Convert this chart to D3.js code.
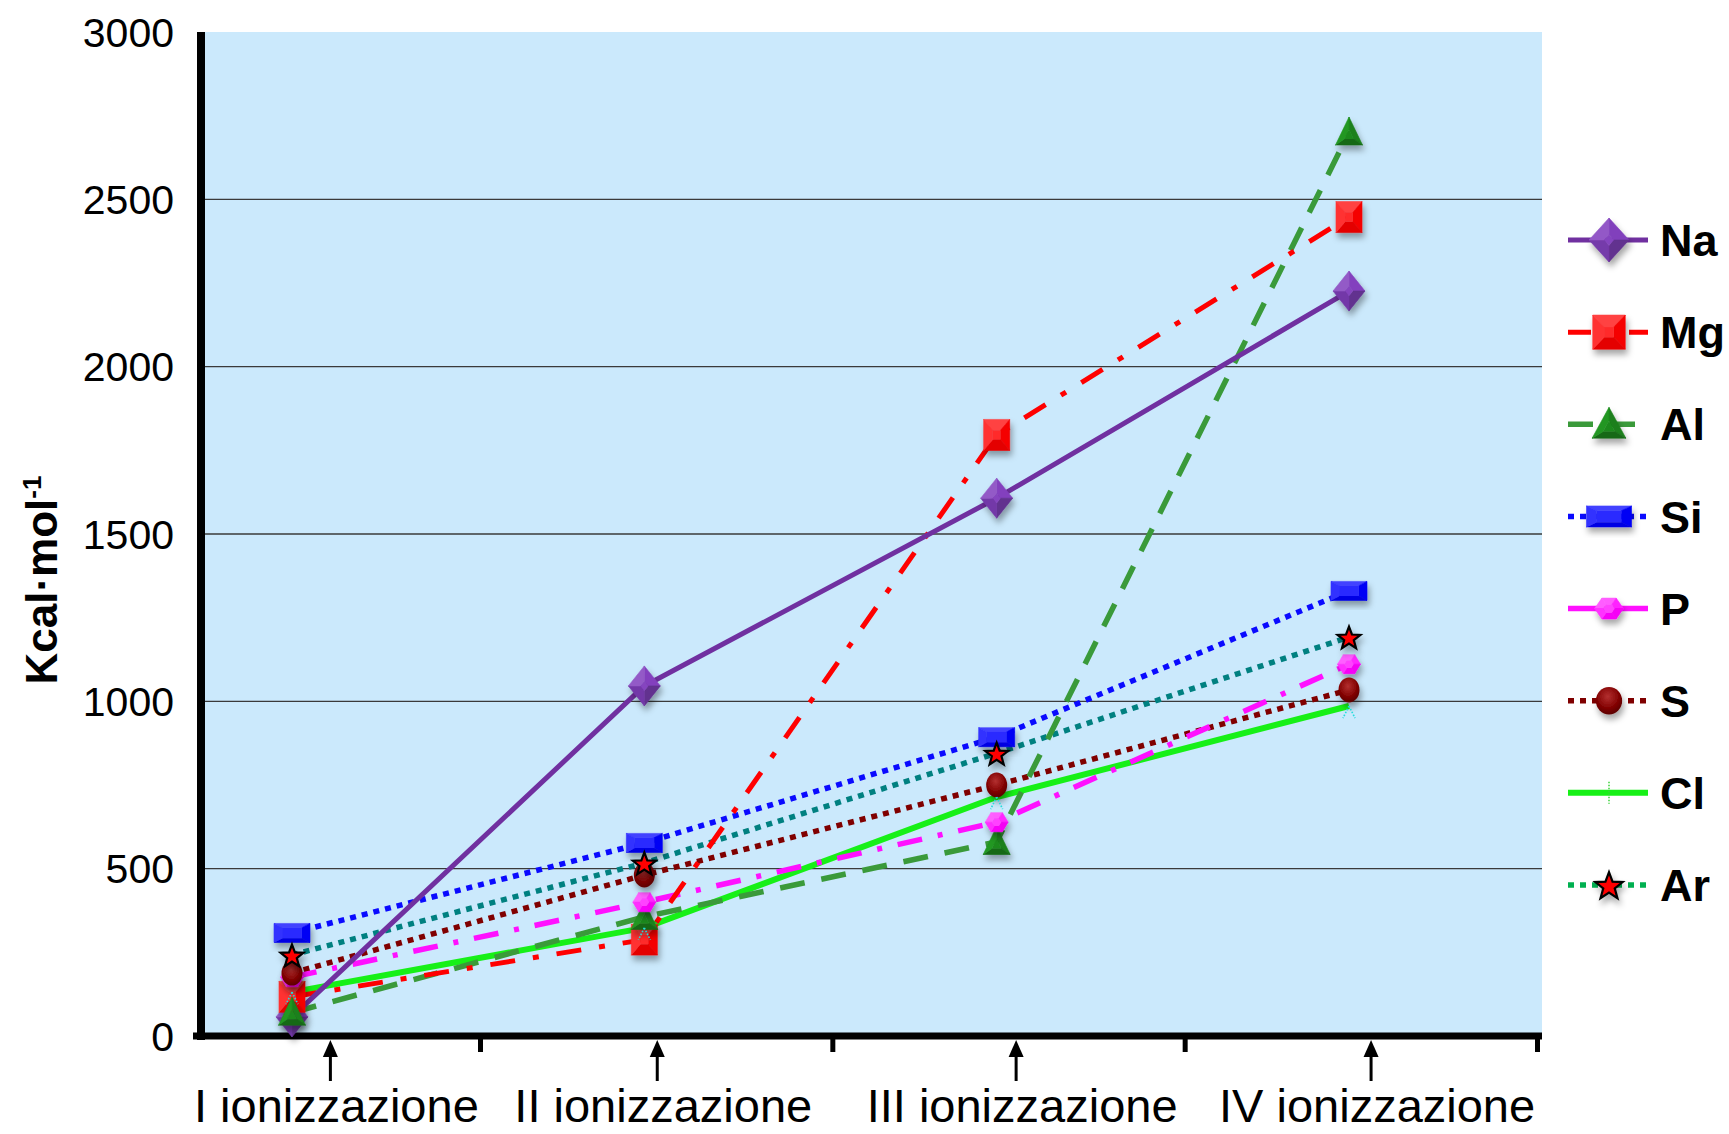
<!DOCTYPE html>
<html>
<head>
<meta charset="utf-8">
<script src="https://cdn.jsdelivr.net/npm/d3@7"></script>
<style>
  html, body { margin: 0; background: #ffffff; }
  svg { display: block; font-family: "Liberation Sans", Arial, Helvetica, sans-serif; }
</style>
</head>
<body>
<svg id="chart" width="1729" height="1134"></svg>
<script>
// Successive ionization energies (kcal/mol) of third-period elements
const categories = ["I ionizzazione", "II ionizzazione", "III ionizzazione", "IV ionizzazione"];
const elements = ["Na", "Mg", "Al", "Si", "P", "S", "Cl", "Ar"];
const naValues = [57, 1046, 1607, 2226];
const mgValues = [117, 288, 1796, 2447];
const alValues = [70, 356, 580, 2700];
const siValues = [308, 577, 893, 1330];
const pValues  = [176, 400, 639, 1111];
const sValues  = [188, 481, 750, 1034];
const clValues = [131, 323, 714, 986];
const arValues = [242, 517, 845, 1192];
const yTicks = [0, 500, 1000, 1500, 2000, 2500, 3000];
const yTitle = "Kcal·mol";
const yTitleSup = "-1";

const seriesValues = [naValues, mgValues, alValues, siValues, pValues, sValues, clValues, arValues];

// Drawing style of each series
const styles = {
  Na: { color: "#7030a0", width: 5,   dash: null,            marker: "diamond",  mColor: "#7b3db3", mw: 32, mh: 40 },
  Mg: { color: "#ff0000", width: 5,   dash: "25 18 6 18",     marker: "square",   mColor: "#ff1414", mw: 26, mh: 31, legendDash: "23 16 6 16" },
  Al: { color: "#3a9a3a", width: 5.5, dash: "25 17",          marker: "triangle", mColor: "#1b7f1b", mw: 27, mh: 28 },
  Si: { color: "#0a0aff", width: 5.5, dash: "6 6",            marker: "rect",     mColor: "#1414ff", mw: 36, mh: 19 },
  P:  { color: "#ff10ff", width: 5.5, dash: "25 16 5 16",     marker: "hexagon",  mColor: "#ff2aff", mw: 23, mh: 19, legendDash: null },
  S:  { color: "#800000", width: 5.5, dash: "6 6",            marker: "ellipse",  mColor: "#8b0505", mw: 21, mh: 25 },
  Cl: { color: "#17f017", width: 6,   dash: null,            marker: "cross",    mColor: "#22dddd", mw: 12, mh: 12, legendColor: "#3ad13a" },
  Ar: { color: "#008080", width: 5.5, dash: "6 6",            marker: "star",     mColor: "#ff0000", mw: 23, mh: 24, legendLine: "#00b050" }
};

const svg = d3.select("#chart");

const x = d3.scalePoint().domain(categories).range([292, 1349]);
const y = d3.scaleLinear().domain([0, 3000]).range([1036, 32]);
const plotLeft = 205, plotRight = 1542;
const step = x.step();

// ---------- defs ----------
const defs = svg.append("defs");
const shadow = defs.append("filter").attr("id", "mshadow")
  .attr("x", "-50%").attr("y", "-50%").attr("width", "200%").attr("height", "200%");
shadow.append("feDropShadow").attr("dx", 2).attr("dy", 5).attr("stdDeviation", 3)
  .attr("flood-color", "#000").attr("flood-opacity", 0.35);

const ballGrad = defs.append("radialGradient").attr("id", "ball")
  .attr("cx", "45%").attr("cy", "35%").attr("r", "65%");
ballGrad.append("stop").attr("offset", "0%").attr("stop-color", "#b33030");
ballGrad.append("stop").attr("offset", "60%").attr("stop-color", "#870606");
ballGrad.append("stop").attr("offset", "100%").attr("stop-color", "#5c0000");

// ---------- plot background & grid ----------
svg.append("rect")
  .attr("x", plotLeft).attr("y", y(3000))
  .attr("width", plotRight - plotLeft).attr("height", y(0) - y(3000))
  .attr("fill", "#cbe9fc");

svg.append("g").selectAll("line")
  .data(yTicks.filter(v => v > 0 && v < 3000))
  .join("line")
  .attr("x1", plotLeft).attr("x2", plotRight)
  .attr("y1", d => y(d)).attr("y2", d => y(d))
  .attr("stroke", "#3a3a3a").attr("stroke-width", 1.3);

// ---------- y axis ----------
svg.append("line")
  .attr("x1", 201).attr("x2", 201)
  .attr("y1", y(3000)).attr("y2", y(0) + 4)
  .attr("stroke", "#000").attr("stroke-width", 8);

svg.append("g").selectAll("text")
  .data(yTicks)
  .join("text")
  .attr("x", 174).attr("y", d => y(d))
  .attr("dy", "0.36em")
  .attr("text-anchor", "end")
  .attr("font-size", 41)
  .attr("fill", "#000")
  .text(d => d);

const yt = svg.append("text")
  .attr("transform", `translate(57,${(y(0) + y(3000)) / 2 + 46}) rotate(-90)`)
  .attr("text-anchor", "middle")
  .attr("font-size", 44)
  .attr("font-weight", "bold")
  .attr("fill", "#000");
yt.append("tspan").text(yTitle);
yt.append("tspan").attr("dy", -16).attr("font-size", 26).text(yTitleSup);

// ---------- x axis ----------
svg.append("line")
  .attr("x1", 193).attr("x2", plotRight)
  .attr("y1", y(0)).attr("y2", y(0))
  .attr("stroke", "#000").attr("stroke-width", 7);

svg.append("g").selectAll("line")
  .data(categories)
  .join("line")
  .attr("x1", d => x(d) + step * 0.535).attr("x2", d => x(d) + step * 0.535)
  .attr("y1", y(0)).attr("y2", y(0) + 16)
  .attr("stroke", "#000").attr("stroke-width", 5);

// Category labels: left-aligned under each point, never left of the axis
const labels = svg.append("g").selectAll("text")
  .data(categories)
  .join("text")
  .attr("x", d => Math.max(194, x(d) - 130))
  .attr("y", 1122)
  .attr("text-anchor", "start")
  .attr("font-size", 47)
  .attr("fill", "#000")
  .text(d => d);

// Arrows pointing up at the axis, centred over each label
const labelCenters = [];
labels.each(function () {
  const b = this.getBBox();
  labelCenters.push(b.x + b.width / 2);
});
const arrows = svg.append("g").selectAll("g").data(categories).join("g")
  .attr("transform", (d, i) => `translate(${labelCenters[i] - 6},0)`);
arrows.append("line")
  .attr("x1", 0).attr("x2", 0)
  .attr("y1", y(0) + 18).attr("y2", y(0) + 45)
  .attr("stroke", "#000").attr("stroke-width", 3);
arrows.append("path")
  .attr("d", `M0,${y(0) + 4}L7.5,${y(0) + 21}L-7.5,${y(0) + 21}Z`)
  .attr("fill", "#000");

// ---------- marker helpers ----------
function shade(color, k) {
  const c = d3.hsl(color);
  c.l = Math.max(0, Math.min(1, c.l * k));
  return c.formatHex();
}

// Bevelled polygon: flat inner face surrounded by lit / shaded facets
function bevel(g, pts, cx, cy, color, inset) {
  const inner = pts.map(p => [cx + (p[0] - cx) * inset, cy + (p[1] - cy) * inset]);
  const n = pts.length;
  for (let i = 0; i < n; i++) {
    const a = pts[i], b = pts[(i + 1) % n], ia = inner[i], ib = inner[(i + 1) % n];
    const mx = (a[0] + b[0]) / 2 - cx, my = (a[1] + b[1]) / 2 - cy;
    const len = Math.hypot(mx, my) || 1;
    const light = (-mx * 0.55 - my * 0.85) / len;
    const f = shade(color, 1 + 0.2 * light);
    g.append("path")
      .attr("d", `M${a[0]},${a[1]}L${b[0]},${b[1]}L${ib[0]},${ib[1]}L${ia[0]},${ia[1]}Z`)
      .attr("fill", f).attr("stroke", f).attr("stroke-width", 0.6);
  }
  g.append("path")
    .attr("d", "M" + inner.map(p => p.join(",")).join("L") + "Z")
    .attr("fill", shade(color, 1.08));
}

function drawMarker(g, type, cx, cy, w, h, color) {
  const m = g.append("g").attr("filter", type === "cross" ? null : "url(#mshadow)");
  if (type === "diamond") {
    bevel(m, [[cx, cy - h / 2], [cx + w / 2, cy], [cx, cy + h / 2], [cx - w / 2, cy]], cx, cy, color, 0.25);
  } else if (type === "square" || type === "rect") {
    bevel(m, [[cx - w / 2, cy - h / 2], [cx + w / 2, cy - h / 2], [cx + w / 2, cy + h / 2], [cx - w / 2, cy + h / 2]], cx, cy, color, type === "rect" ? 0.55 : 0.3);
  } else if (type === "triangle") {
    bevel(m, [[cx, cy - h * 0.55], [cx + w / 2, cy + h * 0.45], [cx - w / 2, cy + h * 0.45]], cx, cy + h * 0.12, color, 0.35);
  } else if (type === "hexagon") {
    bevel(m, [[cx - w / 2, cy], [cx - w / 4, cy - h / 2], [cx + w / 4, cy - h / 2], [cx + w / 2, cy], [cx + w / 4, cy + h / 2], [cx - w / 4, cy + h / 2]], cx, cy, color, 0.4);
  } else if (type === "ellipse") {
    m.append("ellipse").attr("cx", cx).attr("cy", cy).attr("rx", w / 2).attr("ry", h / 2).attr("fill", "url(#ball)");
  } else if (type === "star") {
    const ro = Math.max(w, h) / 2, ri = ro * 0.42, pts = [];
    for (let i = 0; i < 10; i++) {
      const r = i % 2 ? ri : ro, a = -Math.PI / 2 + i * Math.PI / 5;
      pts.push([cx + r * Math.cos(a), cy + 1.5 + r * Math.sin(a)]);
    }
    m.append("path").attr("d", "M" + pts.map(p => p.join(",")).join("L") + "Z")
      .attr("fill", color).attr("stroke", "#000").attr("stroke-width", 2.2).attr("stroke-linejoin", "miter");
  } else if (type === "cross") {
    [[-w / 2, h], [w / 2, h]].forEach(([dx, dy]) => {
      m.append("line").attr("x1", cx).attr("y1", cy).attr("x2", cx + dx).attr("y2", cy + dy)
        .attr("stroke", color).attr("stroke-width", 1.6).attr("stroke-dasharray", "1.6 1.6");
    });
  }
}

// ---------- series lines (first series on top) ----------
const line = d3.line().x((d, i) => x(categories[i])).y(d => y(d));
const lineG = svg.append("g");
for (let s = elements.length - 1; s >= 0; s--) {
  const st = styles[elements[s]];
  lineG.append("path")
    .attr("d", line(seriesValues[s]))
    .attr("fill", "none")
    .attr("stroke", st.color)
    .attr("stroke-width", st.width)
    .attr("stroke-dasharray", st.dash)
    .attr("stroke-linejoin", "round");
}

// ---------- markers ----------
const markG = svg.append("g");
elements.forEach((el, s) => {
  const st = styles[el];
  seriesValues[s].forEach((v, i) => {
    drawMarker(markG, st.marker, x(categories[i]), y(v), st.mw, st.mh, st.mColor);
  });
});

// ---------- legend ----------
const ly = d3.scalePoint().domain(elements).range([240, 885]);
const legend = svg.append("g");
elements.forEach(el => {
  const st = styles[el];
  const cy = ly(el);
  const dash = st.legendDash !== undefined ? st.legendDash : st.dash;
  legend.append("line")
    .attr("x1", 1568).attr("x2", 1648).attr("y1", cy).attr("y2", cy)
    .attr("stroke", st.legendLine || st.color)
    .attr("stroke-width", st.width)
    .attr("stroke-dasharray", dash);
  if (st.marker === "cross") {
    legend.append("line").attr("x1", 1609).attr("x2", 1609).attr("y1", cy - 11).attr("y2", cy + 11)
      .attr("stroke", st.legendColor).attr("stroke-width", 1.5).attr("stroke-dasharray", "1.5 1.5");
  } else {
    drawMarker(legend, st.marker, 1609, cy, st.mw * 1.25, st.mh * 1.1, st.mColor);
  }
  legend.append("text")
    .attr("x", 1660).attr("y", cy).attr("dy", "0.36em")
    .attr("font-size", 45).attr("font-weight", "bold").attr("fill", "#000")
    .text(el);
});
</script>
</body>
</html>
